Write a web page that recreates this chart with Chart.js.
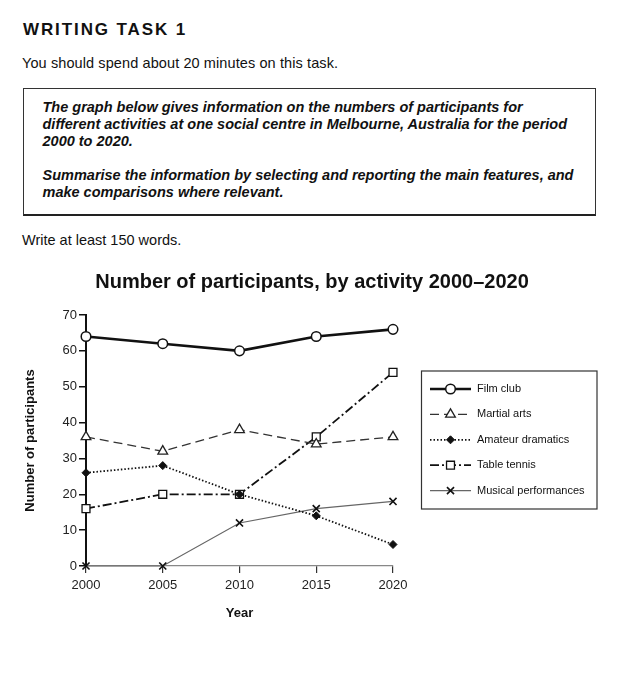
<!DOCTYPE html>
<html>
<head>
<meta charset="utf-8">
<script src="https://cdn.jsdelivr.net/npm/chart.js@4.4.1/dist/chart.umd.min.js"></script>
<style>
html,body{margin:0;padding:0;background:#fff;}
body{width:624px;height:677px;position:relative;overflow:hidden;font-family:"Liberation Sans",Arial,sans-serif;color:#111;}
.t{position:absolute;white-space:nowrap;line-height:1;}
#h1{left:23px;top:20.6px;font-size:17px;font-weight:bold;letter-spacing:1.9px;}
#p1{left:22px;top:55.7px;font-size:14.5px;letter-spacing:0.1px;}
#p2{left:22px;top:233.4px;font-size:14.5px;}
#box{position:absolute;left:23px;top:88px;width:573px;height:128px;box-sizing:border-box;border:1.5px solid #333;border-bottom:2px solid #222;}
#boxtext{position:absolute;left:18.5px;top:10px;font-size:14.5px;line-height:17px;font-weight:bold;font-style:italic;white-space:nowrap;}
#c{position:absolute;left:0;top:260px;}
</style>
</head>
<body>
<div class="t" id="h1">WRITING TASK 1</div>
<div class="t" id="p1">You should spend about 20 minutes on this task.</div>
<div id="box"><div id="boxtext">The graph below gives information on the numbers of participants for<br>different activities at one social centre in Melbourne, Australia for the period<br>2000 to 2020.<br><br>Summarise the information by selecting and reporting the main features, and<br>make comparisons where relevant.</div></div>
<div class="t" id="p2">Write at least 150 words.</div>
<canvas id="c" width="624" height="380"></canvas>
<script>
// ---- data ----
const years = ['2000', '2005', '2010', '2015', '2020'];
const filmClub = [64, 62, 60, 64, 66];
const martialArts = [36, 32, 38, 34, 36];
const amateurDramatics = [26, 28, 20, 14, 6];
const tableTennis = [16, 20, 20, 36, 54];
const musicalPerformances = [0, 0, 12, 16, 18];
const seriesNames = ['Film club', 'Martial arts', 'Amateur dramatics', 'Table tennis', 'Musical performances'];
const yMin = 0, yMax = 70, yStep = 10;
const chartTitle = 'Number of participants, by activity 2000\u20132020';
const yTitle = 'Number of participants';
const xTitle = 'Year';

const FONT = "'Liberation Sans', Arial, sans-serif";
Chart.defaults.font.family = FONT;
Chart.defaults.color = '#111';

function drawMarker(ctx, o, x, y) {
  if (Chart.helpers && Chart.helpers.drawPoint) {
    Chart.helpers.drawPoint(ctx, {pointStyle: o.pointStyle, radius: o.pointRadius, borderWidth: o.pointBorderWidth, rotation: 0}, x, y);
  }
}

const legendPlugin = {
  id: 'boxLegend',
  afterDraw(chart) {
    const ctx = chart.ctx;
    ctx.save();
    ctx.setLineDash([]);
    ctx.strokeStyle = '#333';
    ctx.lineWidth = 1.2;
    ctx.strokeRect(421.5, 111, 175.5, 138);
    const top = 129, step = 25.4;
    chart.data.datasets.forEach((ds, i) => {
      const y = top + i * step;
      ctx.save();
      ctx.strokeStyle = ds.borderColor;
      ctx.lineWidth = ds.borderWidth;
      ctx.setLineDash(ds.borderDash || []);
      ctx.beginPath();
      ctx.moveTo(430, y);
      ctx.lineTo(471, y);
      ctx.stroke();
      ctx.setLineDash([]);
      ctx.fillStyle = ds.pointBackgroundColor;
      ctx.strokeStyle = ds.pointBorderColor;
      ctx.lineWidth = ds.pointBorderWidth;
      drawMarker(ctx, ds, 450.5, y);
      ctx.restore();
      ctx.fillStyle = '#111';
      ctx.font = '11px ' + FONT;
      ctx.textAlign = 'left';
      ctx.textBaseline = 'middle';
      ctx.fillText(ds.label, 477, y);
    });
    ctx.restore();
  }
};

new Chart(document.getElementById('c'), {
  type: 'line',
  data: {
    labels: years,
    datasets: [
      {label: seriesNames[0], data: filmClub, borderColor: '#111', borderWidth: 2.6,
       pointStyle: 'circle', pointRadius: 4.8, pointBackgroundColor: '#fff', pointBorderColor: '#111', pointBorderWidth: 1.5},
      {label: seriesNames[1], data: martialArts, borderColor: '#333', borderWidth: 1.3, borderDash: [9, 5],
       pointStyle: 'triangle', pointRadius: 5.6, pointBackgroundColor: '#fff', pointBorderColor: '#222', pointBorderWidth: 1.3},
      {label: seriesNames[2], data: amateurDramatics, borderColor: '#111', borderWidth: 1.8, borderDash: [1.5, 2],
       pointStyle: 'rectRot', pointRadius: 4, pointBackgroundColor: '#111', pointBorderColor: '#111', pointBorderWidth: 1},
      {label: seriesNames[3], data: tableTennis, borderColor: '#111', borderWidth: 1.8, borderDash: [9, 3, 2, 3],
       pointStyle: 'rect', pointRadius: 5.6, pointBackgroundColor: '#fff', pointBorderColor: '#111', pointBorderWidth: 1.3},
      {label: seriesNames[4], data: musicalPerformances, borderColor: '#666', borderWidth: 1.2,
       pointStyle: 'crossRot', pointRadius: 5, pointBackgroundColor: '#111', pointBorderColor: '#111', pointBorderWidth: 1.6}
    ]
  },
  options: {
    responsive: false,
    animation: false,
    devicePixelRatio: 1,
    layout: {padding: {left: 0, right: 0, top: 0, bottom: 0}},
    elements: {line: {tension: 0, fill: false}},
    datasets: {line: {clip: false}},
    plugins: {
      legend: {display: false},
      tooltip: {enabled: false},
      title: {display: true, text: chartTitle, color: '#111',
        font: {size: 20, weight: 'bold', family: FONT, lineHeight: 1.2}, padding: {top: 10, bottom: 21}}
    },
    scales: {
      x: {
        type: 'category',
        offset: false,
        afterFit(scale) { scale.height = 74; },
        grid: {display: true, drawOnChartArea: false, drawTicks: true, tickLength: 7, color: '#333', lineWidth: 1.2, offset: false},
        border: {display: true, color: '#888', width: 1.2},
        ticks: {color: '#222', font: {size: 13, family: FONT}, padding: 5, maxRotation: 0, autoSkip: false},
        title: {display: true, text: xTitle, color: '#111', font: {size: 13, weight: 'bold', family: FONT, lineHeight: 1.2}, padding: {top: 0, bottom: 19}}
      },
      y: {
        min: yMin, max: yMax,
        afterFit(scale) { scale.width = 86; },
        grid: {display: true, drawOnChartArea: false, drawTicks: true, tickLength: 7, color: '#111', lineWidth: 1.5},
        border: {display: true, color: '#111', width: 2},
        ticks: {stepSize: yStep, color: '#222', font: {size: 13, family: FONT}, padding: 2},
        title: {display: true, text: yTitle, color: '#111', font: {size: 13, weight: 'bold', family: FONT, lineHeight: 1.2}, padding: {top: 23, bottom: 0}}
      },
      yRightSpace: {
        position: 'right',
        display: true,
        min: yMin, max: yMax,
        afterFit(scale) { scale.width = 231; },
        grid: {display: false, drawOnChartArea: false, drawTicks: false},
        border: {display: false},
        ticks: {display: false}
      }
    }
  },
  plugins: [legendPlugin]
});
</script>
</body>
</html>
